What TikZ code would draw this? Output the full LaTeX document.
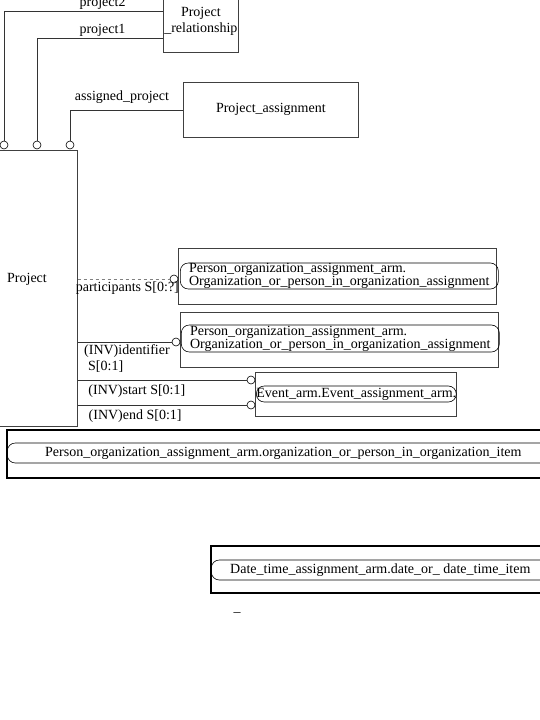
\documentclass[tikz,border=0pt]{standalone}
\usepackage{fontspec}
\setmainfont{Liberation Serif}
\usetikzlibrary{positioning}

\begin{document}
\begin{tikzpicture}[x=1pt,y=-1pt,
    every node/.style={font=\fontsize{14}{13}\selectfont},
    entity/.style={draw=black!75,line width=0.7pt,inner sep=0pt,anchor=north west},
    selbox/.style={draw,line width=2pt,inner sep=0pt,anchor=north west},
    pill/.style={draw,line width=0.6pt,rounded corners=8pt,inner sep=0pt,align=left,anchor=west},
    ring/.style={circle,draw,line width=0.6pt,fill=white,inner sep=0pt,minimum size=8pt},
    lbl/.style={inner sep=2pt,text=black}]
  \useasboundingbox (0,0) rectangle (540,720);

  % entities
  \node[entity,minimum width=79pt,minimum height=276pt] (project) at (-2,150) {};
  \node at (27,279) {Project};
  \node[entity,minimum width=75pt,minimum height=62pt,align=center] (prel) at (163,-10) {Project\\[3pt]\_relationship};
  \node[entity,minimum width=175pt,minimum height=55pt] (passign) at (183,82) {Project\_assignment};

  \node[entity,minimum width=318pt,minimum height=56pt] (poa1) at (178,248) {};
  \node[pill,minimum width=318pt,minimum height=26pt] (poa1t) at (180,276)
    {Person\_organization\_assignment\_arm.\\Organization\_or\_person\_in\_organization\_assignment};
  \node[entity,minimum width=318pt,minimum height=55pt] (poa2) at (180,312) {};
  \node[pill,minimum width=318pt,minimum height=27pt] (poa2t) at (181,338.5)
    {Person\_organization\_assignment\_arm.\\Organization\_or\_person\_in\_organization\_assignment};
  \node[entity,minimum width=201pt,minimum height=44pt] (event) at (255,372) {};
  \node[pill,minimum width=200pt,minimum height=16pt] (eventt) at (256,394) {Event\_arm.Event\_assignment\_arm.};

  % select types
  \node[selbox,minimum width=560pt,minimum height=48pt] (orgsel) at (6,429) {};
  \node[pill,minimum width=552pt,minimum height=20pt] (orgselt) at (7,453)
    {Person\_organization\_assignment\_arm.organization\_or\_person\_in\_organization\_item};
  \node[selbox,minimum width=345pt,minimum height=47pt] (datesel) at (210,545) {};
  \node[pill,minimum width=338pt,minimum height=20pt] (dateselt) at (211,570)
    {Date\_time\_assignment\_arm.date\_or\_ date\_time\_item};
  \node (mark) at (237,612) {\_};

  % rings
  \foreach \x/\n in {4/r1,37/r2,70/r3} {
    \node[ring] (\n) at (\x,145) {};
  }
  \node[ring] (r4) at (174,279) {};
  \node[ring] (r5) at (176,342) {};
  \node[ring] (r6) at (251,380) {};
  \node[ring] (r7) at (251,405) {};

  % attributes
  \draw[black!80] (r1.north) |- ([yshift=10pt]prel.west) node[lbl,pos=0.81,above] {project2};
  \draw[black!80] (r2.north) |- ([yshift=-17pt]prel.west) node[lbl,pos=0.76,above] {project1};
  \draw[black!80] (r3.north) |- (passign.west) node[lbl,pos=0.73,above=4pt] {assigned\_project};
  \draw[black!50,dashed] (project.east |- r4) -- (r4.west) node[lbl,pos=0.54,below=1pt] {participants S[0:?]};
  \draw[black!80] (project.east |- r5) -- (r5.west);
  \node[align=left,anchor=north west,inner sep=0pt] (identlbl) at (84,344) {(INV)identifier\\[3pt]\hspace{4pt}S[0:1]};
  \draw[black!80] (project.east |- r6) -- (r6.west) node[lbl,pos=0.35,below=3pt] {(INV)start S[0:1]};
  \draw[black!80] (project.east |- r7) -- (r7.west) node[lbl,pos=0.34,below=3pt] {(INV)end S[0:1]};
\end{tikzpicture}
\end{document}
